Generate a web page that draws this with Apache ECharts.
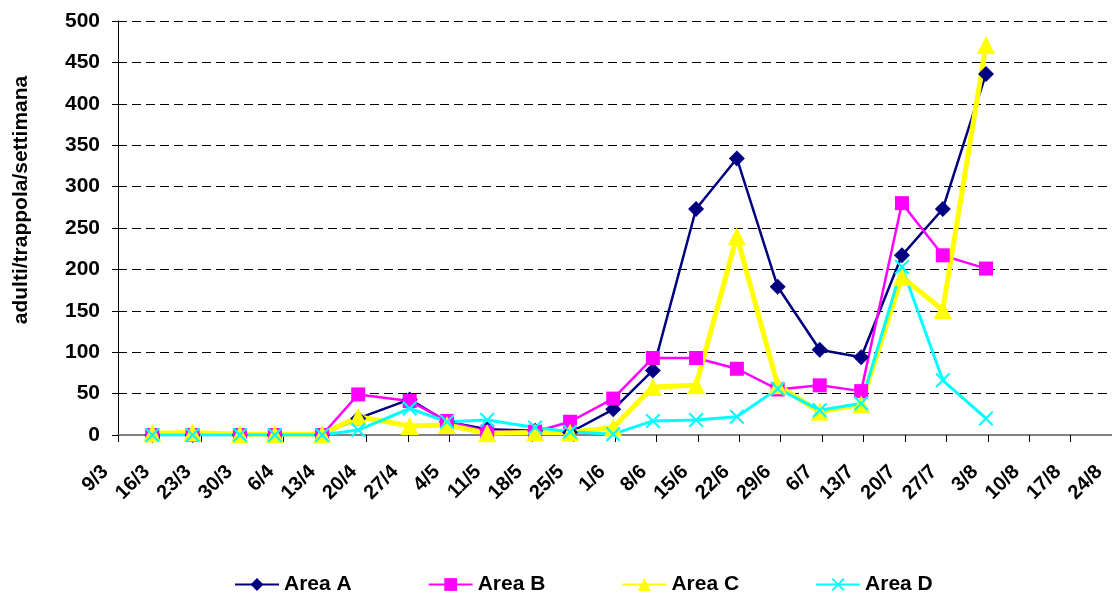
<!DOCTYPE html>
<html>
<head>
<meta charset="utf-8">
<script src="https://cdn.jsdelivr.net/npm/echarts@6/dist/echarts.min.js"></script>
<style>
  html, body { margin: 0; padding: 0; background: #fff; }
  #main { width: 1112px; height: 597px; }
</style>
</head>
<body>
<div id="main"></div>
<script>
// etichette settimanali dell'asse x (una ogni 7 giorni a partire dal 9/3)
var tickLabels = ['9/3','16/3','23/3','30/3','6/4','13/4','20/4','27/4','4/5','11/5','18/5','25/5',
    '1/6','8/6','15/6','22/6','29/6','6/7','13/7','20/7','27/7','3/8','10/8','17/8','24/8'];

// giorni dal 9/3 delle date di campionamento
var sampleDays = [5.8, 12.6, 20.6, 26.5, 34.5, 40.6, 49.3, 55.6, 62.4, 70.5, 76.4, 83.7,
    90.4, 97.7, 104.6, 111.5, 118.6, 125.6, 132.5, 139.4, 146.7];

var areaA = [0, 0, 0, 0, 0, 20, 43, 16, 7, 5, 3, 31, 78, 273, 334, 179, 103, 94, 217, 273, 436];
var areaB = [0, 0, 0, 0, 0, 49, 41, 17, 4, 4, 16, 44, 93, 93, 80, 55, 60, 53, 280, 217, 201];
var areaC = [2, 3, 1, 1, 1, 22, 11, 12, 2, 3, 3, 9, 58, 60, 240, 60, 28, 37, 191, 151, 471];
var areaD = [0, 0, 0, 0, 0, 6, 32, 16, 18, 9, 4, 1, 17, 18, 22, 56, 30, 38, 203, 66, 20];

var FONT = '"Liberation Sans", Arial, sans-serif';
var crossPath = 'path://M0,1L1,0L5,4L9,0L10,1L6,5L10,9L9,10L5,6L1,10L0,9L4,5Z';

function pairs(values) {
    var data = [];
    for (var i = 0; i < values.length; i++) {
        data.push([sampleDays[i], values[i]]);
    }
    return data;
}

function makeSeries(name, values, color, width, symbol, size) {
    return {
        name: name,
        type: 'line',
        data: pairs(values),
        symbol: symbol,
        symbolSize: size,
        showAllSymbol: true,
        lineStyle: {color: color, width: width},
        itemStyle: {color: color},
        emphasis: {disabled: true},
        animation: false
    };
}

var myChart = echarts.init(document.getElementById('main'));

var option = {
    backgroundColor: '#fff',
    animation: false,
    grid: {left: 118, right: 0, top: 21, bottom: 162, containLabel: false},
    legend: {
        left: 229,
        top: 569,
        itemWidth: 44,
        itemHeight: 16,
        itemGap: 76,
        textStyle: {fontFamily: FONT, fontSize: 21, fontWeight: 'bold', color: '#000'},
        data: ['Area A', 'Area B', 'Area C', 'Area D']
    },
    graphic: [{
        type: 'text',
        x: 21,
        y: 200,
        rotation: Math.PI / 2,
        style: {
            text: 'adulti/trappola/settimana',
            font: 'bold 21px ' + FONT,
            fill: '#000',
            align: 'center',
            verticalAlign: 'middle'
        }
    }],
    xAxis: {
        type: 'value',
        min: 0,
        max: 168,
        interval: 7,
        axisLine: {show: true, onZero: false, lineStyle: {color: '#808080', width: 2}},
        axisTick: {show: true, length: 7, lineStyle: {color: '#000'}},
        splitLine: {show: false},
        axisLabel: {
            rotate: 45,
            margin: 21,
            padding: [0, 18, 0, 0],
            fontFamily: FONT,
            fontSize: 20,
            fontWeight: 'bold',
            color: '#000',
            showMinLabel: true,
            showMaxLabel: true,
            formatter: function (v) {
                return tickLabels[Math.round(v / 7)] || '';
            }
        }
    },
    yAxis: {
        type: 'value',
        min: 0,
        max: 500,
        interval: 50,
        axisLine: {show: true, lineStyle: {color: '#000', width: 1}},
        axisTick: {show: true, length: 6, lineStyle: {color: '#000'}},
        splitLine: {show: true, lineStyle: {color: '#000', width: 1, type: [9, 5]}},
        axisLabel: {
            margin: 18,
            fontFamily: FONT,
            fontSize: 21,
            fontWeight: 'bold',
            color: '#000'
        }
    },
    series: [
        makeSeries('Area A', areaA, '#000080', 2.5, 'diamond', 16),
        makeSeries('Area B', areaB, '#FF00FF', 2.5, 'rect', 14),
        makeSeries('Area C', areaC, '#FFFF00', 5, 'triangle', 18),
        makeSeries('Area D', areaD, '#00FFFF', 3, crossPath, 15)
    ]
};

myChart.setOption(option);
</script>
</body>
</html>
